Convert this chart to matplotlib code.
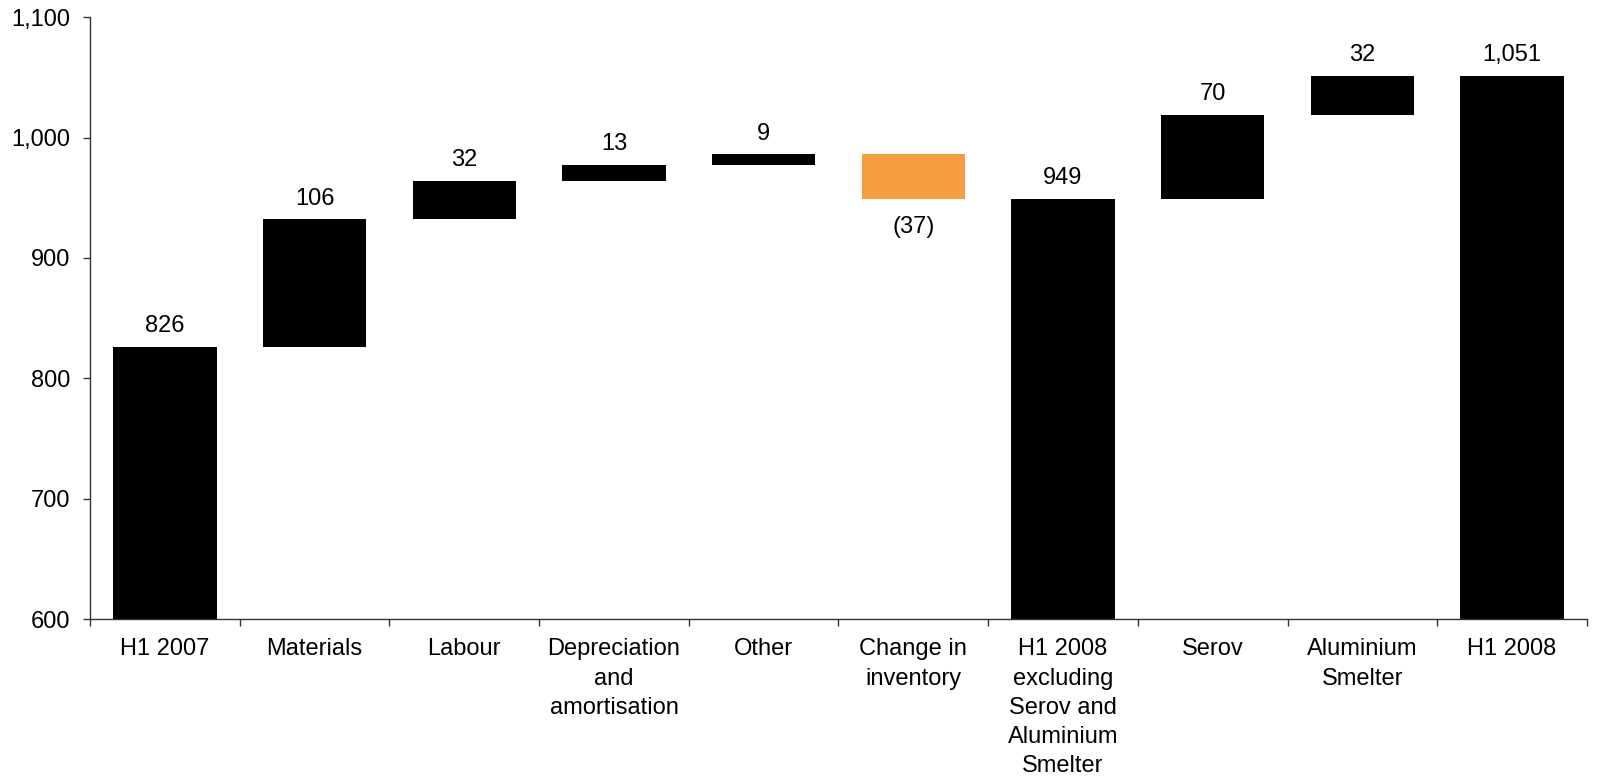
import numpy as np
import matplotlib.pyplot as plt

plt.rcParams['font.family'] = ['Liberation Sans', 'DejaVu Sans']

categories = ["H1 2007", "Materials", "Labour", "Depreciation\nand\namortisation",
              "Other", "Change in\ninventory",
              "H1 2008\nexcluding\nSerov and\nAluminium\nSmelter",
              "Serov", "Aluminium\nSmelter", "H1 2008"]
values = [826, 106, 32, 13, 9, -37, 949, 70, 32, 1051]
is_total = [True, False, False, False, False, False, True, False, False, True]
labels = ["826", "106", "32", "13", "9", "(37)", "949", "70", "32", "1,051"]

base = 600
bottoms, heights = [], []
run = 0
for v, t in zip(values, is_total):
    if t:
        run = v
        bottoms.append(base)
        heights.append(v - base)
    else:
        if v >= 0:
            bottoms.append(run)
        else:
            bottoms.append(run + v)
        heights.append(abs(v))
        run += v

colors = ["#F59E41" if (v < 0 and not t) else "black" for v, t in zip(values, is_total)]

fig = plt.figure(figsize=(16.02, 7.82), dpi=100)
ax = fig.add_axes([0.0562, 0.2084, 0.9344, 0.7696])
x = np.arange(len(categories))
ax.bar(x, heights, bottom=bottoms, width=0.69, color=colors, edgecolor='none')

fs = 17
for i, (b, h, v, lab) in enumerate(zip(bottoms, heights, values, labels)):
    if v < 0:
        ax.annotate(lab, (i, b), xytext=(0, -20), textcoords='offset points',
                    ha='center', va='center', fontsize=fs)
    else:
        ax.annotate(lab, (i, b + h), xytext=(0, 15), textcoords='offset points',
                    ha='center', va='center', fontsize=fs)

ax.set_xlim(-0.5, len(categories) - 0.5)
ax.set_ylim(600, 1100)
ax.set_yticks(np.arange(600, 1101, 100))
ax.set_yticklabels([f"{v:,}" for v in range(600, 1101, 100)])
ax.set_xticks(x)
ax.set_xticklabels(categories, va='top', ha='center', linespacing=1.42)
ax.set_xticks(np.arange(-0.5, len(categories), 1), minor=True)
ax.tick_params(axis='x', which='major', length=0, pad=14, labelsize=fs)
ax.tick_params(axis='x', which='minor', length=5, width=1, color='#333333')
ax.tick_params(axis='y', length=5, width=1, color='#333333', labelsize=fs, pad=9)

for s in ['top', 'right']:
    ax.spines[s].set_visible(False)
for s in ['left', 'bottom']:
    ax.spines[s].set_color('#333333')
    ax.spines[s].set_linewidth(1)

fig.savefig("out.png", dpi=100)
